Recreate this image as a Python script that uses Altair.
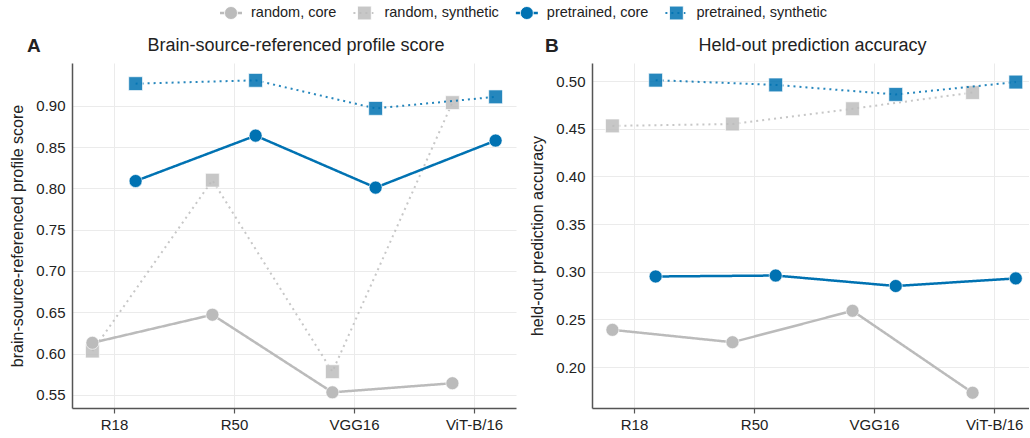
import json

import altair as alt
import pandas as pd

FONT = "Liberation Sans"

models = ["R18", "R50", "VGG16", "ViT-B/16"]
series = ["random, core", "random, synthetic", "pretrained, core", "pretrained, synthetic"]

# Panel A: brain-source-referenced profile score
profile_random_core = [0.613, 0.647, 0.553, 0.564]
profile_random_synthetic = [0.603, 0.810, 0.578, 0.904]
profile_pretrained_core = [0.809, 0.864, 0.801, 0.858]
profile_pretrained_synthetic = [0.927, 0.931, 0.897, 0.911]

# Panel B: held-out prediction accuracy
heldout_random_core = [0.239, 0.226, 0.259, 0.173]
heldout_random_synthetic = [0.453, 0.455, 0.471, 0.488]
heldout_pretrained_core = [0.295, 0.296, 0.285, 0.293]
heldout_pretrained_synthetic = [0.501, 0.496, 0.486, 0.499]

BLUE = "#0072B2"
GREY = "#BBBBBB"
INK = "#222222"
styles = {
    "random, core": dict(color=GREY, shape="circle", dash=[1, 0], lw=2.5, size=170, opacity=1.0),
    "random, synthetic": dict(color=GREY, shape="square", dash=[2, 4], lw=2.0, size=190, opacity=0.82),
    "pretrained, core": dict(color=BLUE, shape="circle", dash=[1, 0], lw=2.5, size=170, opacity=1.0),
    "pretrained, synthetic": dict(color=BLUE, shape="square", dash=[2, 4], lw=2.0, size=190, opacity=0.85),
}
draw_order = ["random, synthetic", "random, core", "pretrained, synthetic", "pretrained, core"]
dodge = {"random": -0.18, "pretrained": 0.18}

PLOT_H = 345
ONE = pd.DataFrame({"k": [0]})


def long_table(values_by_series):
    rows = []
    for s, vals in values_by_series.items():
        init = s.split(",")[0]
        for i, (m, v) in enumerate(zip(models, vals)):
            rows.append({"series": s, "model": m, "xpos": i + dodge[init], "value": v})
    return pd.DataFrame(rows)


profile_df = long_table({
    "random, core": profile_random_core,
    "random, synthetic": profile_random_synthetic,
    "pretrained, core": profile_pretrained_core,
    "pretrained, synthetic": profile_pretrained_synthetic,
})
heldout_df = long_table({
    "random, core": heldout_random_core,
    "random, synthetic": heldout_random_synthetic,
    "pretrained, core": heldout_pretrained_core,
    "pretrained, synthetic": heldout_pretrained_synthetic,
})

label_expr = json.dumps(models) + "[datum.value]"


def legend_layers(start_x, y):
    """Horizontal key above the panels: line sample + marker + label for each series."""
    char_w = {"a": 556, "c": 500, "d": 556, "e": 556, "h": 556, "i": 222, "m": 833, "n": 556,
              "o": 556, "p": 556, "r": 333, "s": 500, "t": 278, "y": 500, ",": 278, " ": 278}
    fs = 14.5
    layers = []
    cx = start_x
    for s in series:
        st = styles[s]
        layers.append(
            alt.Chart(ONE).mark_rule(color=st["color"], strokeWidth=st["lw"], strokeDash=st["dash"],
                                     opacity=st["opacity"]).encode(
                x=alt.value(cx - 11), x2=alt.value(cx + 11), y=alt.value(y))
        )
        layers.append(
            alt.Chart(ONE).mark_point(shape=st["shape"], filled=True, size=st["size"], color=st["color"],
                                      fillOpacity=st["opacity"], stroke="white", strokeWidth=0.8).encode(
                x=alt.value(cx), y=alt.value(y))
        )
        layers.append(
            alt.Chart(ONE).mark_text(font=FONT, fontSize=fs, align="left", baseline="middle",
                                     color=INK, text=s).encode(
                x=alt.value(cx + 20), y=alt.value(y))
        )
        text_w = sum(char_w.get(c, 556) for c in s) * fs / 1000
        cx = cx + 20 + text_w + 28
    return layers


def panel(df, title, ytitle, ydomain, yticks, letter, letter_dx, width, xmax, extra=()):
    x = alt.X(
        "xpos:Q",
        scale=alt.Scale(domain=[-0.35, xmax], nice=False, zero=False),
        axis=alt.Axis(values=list(range(len(models))), labelExpr=label_expr, title=None,
                      tickSize=5, labelPadding=4, grid=True),
    )
    y = alt.Y(
        "value:Q",
        scale=alt.Scale(domain=ydomain, nice=False, zero=False),
        axis=alt.Axis(values=yticks, format=".2f", title=ytitle, ticks=False,
                      labelPadding=7, titlePadding=10, grid=True),
    )
    base = alt.Chart(df)
    layers = []
    for s in draw_order:
        st = styles[s]
        sub = base.transform_filter(alt.datum.series == s)
        layers.append(
            sub.mark_line(color=st["color"], strokeWidth=st["lw"], strokeDash=st["dash"],
                          opacity=st["opacity"]).encode(x=x, y=y)
        )
        layers.append(
            sub.mark_point(shape=st["shape"], filled=True, size=st["size"], color=st["color"],
                           fillOpacity=st["opacity"], stroke="white", strokeWidth=0.8,
                           strokeOpacity=0.8).encode(x=x, y=y)
        )
    # panel letter and panel heading
    layers.append(
        alt.Chart(ONE).mark_text(font=FONT, fontSize=19, fontWeight="bold", align="left",
                                 baseline="middle", color=INK, text=letter)
        .encode(x=alt.value(letter_dx), y=alt.value(-17))
    )
    layers.append(
        alt.Chart(ONE).mark_text(font=FONT, fontSize=18, align="center", baseline="middle",
                                 color=INK, text=title)
        .encode(x=alt.value((width + 4) / 2), y=alt.value(-17))
    )
    layers.extend(extra)
    return alt.layer(*layers).properties(width=width, height=PLOT_H)


ticks_a = [0.55, 0.60, 0.65, 0.70, 0.75, 0.80, 0.85, 0.90]
ticks_b = [0.20, 0.25, 0.30, 0.35, 0.40, 0.45, 0.50]

chart_a = panel(profile_df, "Brain-source-referenced profile score",
                "brain-source-referenced profile score", [0.534, 0.952], ticks_a, "A", -45, 444, 3.35,
                extra=legend_layers(159, -50))
chart_b = panel(heldout_df, "Held-out prediction accuracy",
                "held-out prediction accuracy", [0.157, 0.519], ticks_b, "B", -47, 437, 3.29)

chart = (
    alt.hconcat(chart_a, chart_b, spacing=76, bounds="flush")
    .properties(padding={"left": 9, "top": 4, "right": 0, "bottom": 0})
    .configure_view(stroke=None)
    .configure_axis(
        domainColor="#555555", domainWidth=1.5, tickColor="#555555", tickWidth=1.2,
        gridColor="#EBEBEB", gridWidth=1,
        labelFont=FONT, labelFontSize=15, labelColor=INK,
        titleFont=FONT, titleFontSize=16, titleFontWeight="normal", titleColor=INK,
    )
)

chart.save("out.html", embed_options={"renderer": "svg", "actions": False})
